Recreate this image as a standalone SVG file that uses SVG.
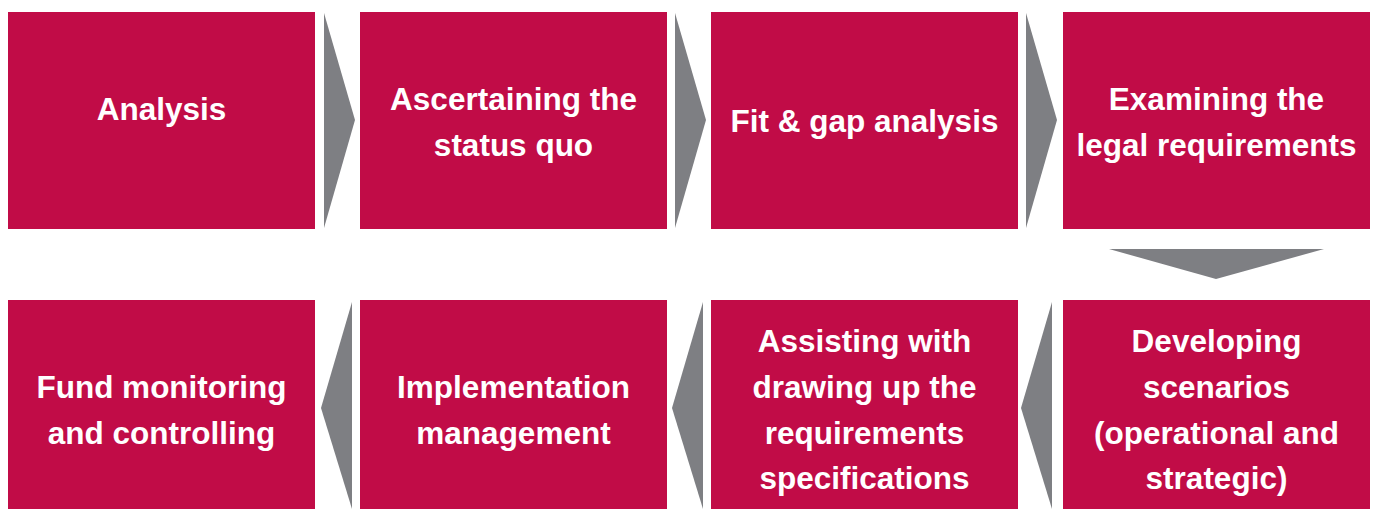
<svg xmlns="http://www.w3.org/2000/svg" width="1375" height="509" viewBox="0 0 1375 509">
<style>
.box{fill:#C10C47}
.arr{fill:#7E7F83}
.t{font-family:"Liberation Sans",Arial,sans-serif;font-weight:bold;font-size:31.5px;fill:#FFFFFF;text-anchor:middle}
</style>
<rect width="1375" height="509" fill="#FFFFFF"/>
<g id="n1"><rect class="box" x="8" y="12" width="307" height="217"/><text class="t" x="161.5" y="120">Analysis</text></g>
<g id="n2"><rect class="box" x="360" y="12" width="307" height="217"/><text class="t" x="513.5" y="110">Ascertaining the</text><text class="t" x="513.5" y="156">status quo</text></g>
<g id="n3"><rect class="box" x="711" y="12" width="307" height="217"/><text class="t" x="864.5" y="132">Fit &amp; gap analysis</text></g>
<g id="n4"><rect class="box" x="1063" y="12" width="307" height="217"/><text class="t" x="1216.5" y="110">Examining the</text><text class="t" x="1216.5" y="156">legal requirements</text></g>
<g id="n5"><rect class="box" x="1063" y="300" width="307" height="209"/><text class="t" x="1216.5" y="352">Developing</text><text class="t" x="1216.5" y="398">scenarios</text><text class="t" x="1216.5" y="444">(operational and</text><text class="t" x="1216.5" y="489">strategic)</text></g>
<g id="n6"><rect class="box" x="711" y="300" width="307" height="209"/><text class="t" x="864.5" y="352">Assisting with</text><text class="t" x="864.5" y="398">drawing up the</text><text class="t" x="864.5" y="444">requirements</text><text class="t" x="864.5" y="489">specifications</text></g>
<g id="n7"><rect class="box" x="360" y="300" width="307" height="209"/><text class="t" x="513.5" y="398">Implementation</text><text class="t" x="513.5" y="444">management</text></g>
<g id="n8"><rect class="box" x="8" y="300" width="307" height="209"/><text class="t" x="161.5" y="398">Fund monitoring</text><text class="t" x="161.5" y="444">and controlling</text></g>
<g id="connectors">
<polygon class="arr" points="324,13 355,120 324,228"/>
<polygon class="arr" points="675,13 706,120 675,228"/>
<polygon class="arr" points="1026,13 1057,120 1026,228"/>
<polygon class="arr" points="1109,249 1324,249 1216,279"/>
<polygon class="arr" points="1052,302 1021,408 1052,509"/>
<polygon class="arr" points="703,302 672,408 703,509"/>
<polygon class="arr" points="352,302 321,408 352,509"/>
</g>
</svg>
